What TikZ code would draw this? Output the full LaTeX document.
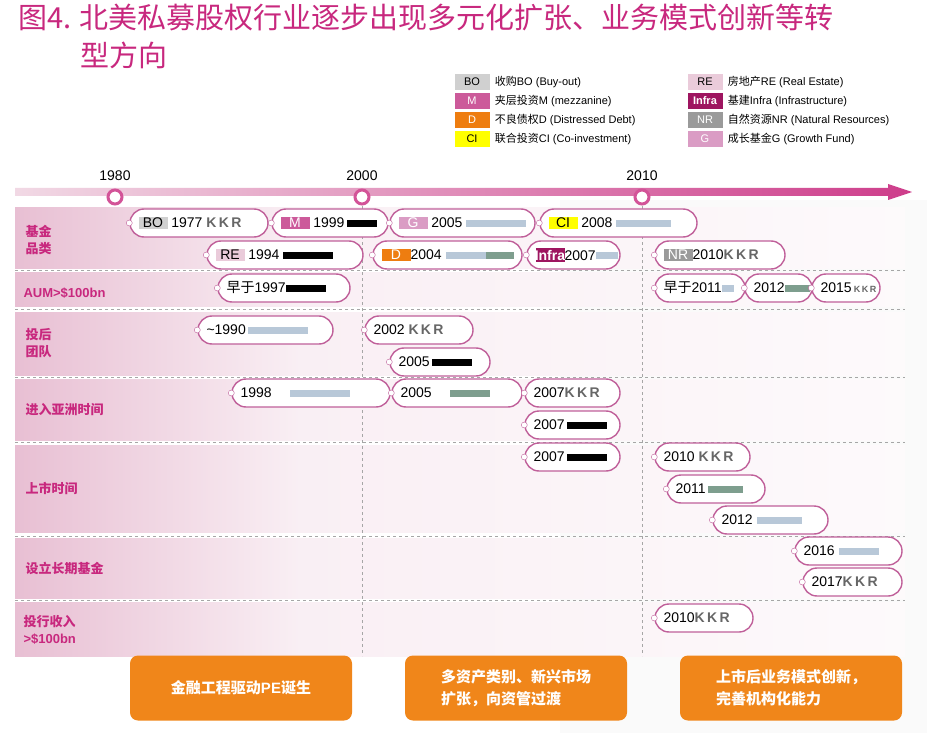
\documentclass[tikz,border=0pt]{standalone}
\usepackage{fontspec}
\setmainfont{Liberation Sans}
\newfontfamily\cjk{Noto Sans CJK SC}
\usepackage{tikz}
\usetikzlibrary{positioning,arrows.meta}
\definecolor{titlemag}{HTML}{C8287E}
\definecolor{pillline}{HTML}{C0609A}
\definecolor{bandpink}{HTML}{E8BFD3}
\definecolor{tagbo}{HTML}{D0D0D0}
\definecolor{tagm}{HTML}{CC5A9A}
\definecolor{tagg}{HTML}{DA9CC4}
\definecolor{tagre}{HTML}{EACBDA}
\definecolor{tagd}{HTML}{EE7D10}
\definecolor{taginfra}{HTML}{9E1560}
\definecolor{tagnr}{HTML}{9A9A9A}
\definecolor{tagci}{HTML}{FFFF00}
\definecolor{logoblue}{HTML}{B8C8D8}
\definecolor{logogreen}{HTML}{7E9E8E}
\definecolor{boxorange}{HTML}{F0861A}
\newcommand{\tagb}[3]{{\setlength{\fboxsep}{1.5pt}\colorbox{#1}{\makebox[26pt]{\textcolor{#2}{#3}}}}}
\newcommand{\blob}[2]{\textcolor{#1}{\rule[1pt]{#2pt}{7pt}}}
\newcommand{\kkr}{\textbf{\textcolor{gray!80!black}{K\,K\,R}}}
\newcommand{\pill}[5]{%
  \node[pillbox,minimum width={#3pt-#2pt}] (#1) at ({(#2+#3)/2},#4) {};
  \node[anchor=west,inner sep=0pt] at ([xshift=9pt]#1.west) {#5};
  \draw[pillline,fill=white] (#1.west) circle (3pt);}
\newcommand{\legend}[6]{%
  \node[fill=#2,minimum width=35pt,minimum height=16pt,inner sep=0pt,text=#3,font=\fontsize{11}{11}\selectfont] (#1) at #4 {#5};
  \node[right=5pt of #1,inner sep=0pt,font=\fontsize{11}{11}\selectfont] {#6};}
\tikzset{
  pillbox/.style={draw=pillline,line width=1.4pt,rounded corners=14pt,minimum height=28pt,inner sep=0pt,fill=white},
  rowlabel/.style={anchor=west,text=titlemag,font=\cjk\bfseries\fontsize{13}{17}\selectfont,align=left},
  sepline/.style={dashed,gray!70,line width=0.8pt},
  tickdot/.style={circle,draw=titlemag!80,line width=3pt,fill=white,minimum size=14pt,inner sep=0pt},
  endbox/.style={fill=boxorange,rounded corners=8pt,minimum width=222pt,minimum height=65pt,text=white,font=\cjk\bfseries\fontsize{15}{22}\selectfont,align=left}
}
\begin{document}
\begin{tikzpicture}[x=1pt,y=-1pt,font=\fontsize{14}{14}\selectfont]
\useasboundingbox (0,0) rectangle (927,733);
\fill[white] (0,0) rectangle (927,733);
\fill[gray!4] (560,200) rectangle (927,733);
% title
\node[anchor=north west,text=titlemag,font=\cjk\fontsize{29}{38}\selectfont,align=left,inner sep=0pt] (title) at (18,4)
  {图4. 北美私募股权行业逐步出现多元化扩张、业务模式创新等转\\\hspace*{62pt}型方向};
% legend
\legend{lbo}{tagbo}{black}{(472,82)}{BO}{\cjk 收购\rmfamily BO (Buy-out)}
\legend{lm}{tagm}{white}{(472,101)}{M}{\cjk 夹层投资\rmfamily M (mezzanine)}
\legend{ld}{tagd}{white}{(472,120)}{D}{\cjk 不良债权\rmfamily D (Distressed Debt)}
\legend{lci}{tagci}{black}{(472,139)}{CI}{\cjk 联合投资\rmfamily CI (Co-investment)}
\legend{lre}{tagre}{black}{(705,82)}{RE}{\cjk 房地产\rmfamily RE (Real Estate)}
\legend{linfra}{taginfra}{white}{(705,101)}{\textbf{Infra}}{\cjk 基建\rmfamily Infra (Infrastructure)}
\legend{lnr}{tagnr}{white}{(705,120)}{NR}{\cjk 自然资源\rmfamily NR (Natural Resources)}
\legend{lg}{tagg}{white}{(705,139)}{G}{\cjk 成长基金\rmfamily G (Growth Fund)}
% row bands
\foreach \ya/\yb in {208/268,272/306,312/375,379/440,445/532,538/598,602/656}{
  \fill[left color=bandpink,right color=bandpink!25] (15,\ya) rectangle (300,\yb);
  \fill[left color=bandpink!25,right color=bandpink!8] (300,\ya) rectangle (905,\yb);}
\foreach \ys in {270,309,377,442,536,600}
  \draw[sepline] (15,\ys) -- (905,\ys);
\draw[sepline] (362,200) -- (362,656);
\draw[sepline] (642,200) -- (642,656);
\node[rowlabel] (r1) at (22,240) {基金\\品类};
\node[rowlabel,font=\bfseries\fontsize{13}{13}\selectfont] (r2) at (20,293) {AUM>\$100bn};
\node[rowlabel] (r3) at (22,343) {投后\\团队};
\node[rowlabel] (r4) at (22,410) {进入亚洲时间};
\node[rowlabel] (r5) at (22,488) {上市时间};
\node[rowlabel] (r6) at (22,568) {设立长期基金};
\node[rowlabel,font=\bfseries\fontsize{13}{17}\selectfont] (r7) at (20,630) {{\cjk 投行收入}\\>\$100bn};
% timeline
\shade[left color=bandpink!60,right color=titlemag!90] (15,188) -- (888,188) -- (888,184) -- (912,192) -- (888,200) -- (888,196) -- (15,196) -- cycle;
\foreach \xt/\yr in {115/1980,362/2000,642/2010}{
  \node[tickdot] (t\yr) at (\xt,197) {};
  \node[above=4pt of t\yr,font=\fontsize{14}{14}\selectfont] {\yr};}
% fund types
\pill{bo}{130}{268}{223}{\tagb{tagbo}{black}{BO} 1977 \kkr}
\pill{m}{272}{388}{223}{\tagb{tagm}{white}{M} 1999\,\blob{black}{30}}
\pill{g}{390}{535}{223}{\tagb{tagg}{white}{G} 2005 \blob{logoblue}{60}}
\pill{ci}{540}{697}{223}{\tagb{tagci}{black}{CI} 2008 \blob{logoblue}{55}}
\pill{re}{207}{363}{255}{\tagb{tagre}{black}{RE} 1994 \blob{black}{50}}
\pill{d}{373}{522}{255}{\tagb{tagd}{white}{D}2004 \blob{logoblue}{40}\blob{logogreen}{28}}
\pill{infra}{527}{620}{255}{\tagb{taginfra}{white}{\textbf{Infra}}2007\blob{logoblue}{22}}
\pill{nr}{655}{785}{255}{\tagb{tagnr}{white}{NR}2010\kkr}
% AUM
\pill{aum1}{218}{350}{288}{{\cjk 早于}1997\blob{black}{40}}
\pill{aum2}{655}{745}{288}{{\cjk 早于}2011\blob{logoblue}{12}}
\pill{aum3}{745}{812}{288}{2012\blob{logogreen}{25}}
\pill{aum4}{812}{880}{288}{2015\,{\fontsize{9}{9}\selectfont\kkr}}
% post-deal teams
\pill{pt1}{198}{333}{330}{\textasciitilde 1990\,\blob{logoblue}{60}}
\pill{pt2}{365}{473}{330}{2002 \kkr}
\pill{pt3}{390}{490}{362}{2005\,\blob{black}{40}}
% Asia
\pill{as1}{232}{390}{393}{1998 \hspace{14pt}\blob{logoblue}{60}}
\pill{as2}{392}{522}{393}{2005 \hspace{14pt}\blob{logogreen}{40}}
\pill{as3}{525}{620}{393}{2007\kkr}
\pill{as4}{525}{620}{425}{2007\,\blob{black}{40}}
% listing
\pill{ls1}{525}{620}{457}{2007\,\blob{black}{40}}
\pill{ls2}{655}{750}{457}{2010 \kkr}
\pill{ls3}{667}{765}{489}{2011\,\blob{logogreen}{35}}
\pill{ls4}{713}{828}{520}{2012 \blob{logoblue}{45}}
% long-term funds
\pill{lt1}{795}{902}{551}{2016 \blob{logoblue}{40}}
\pill{lt2}{803}{902}{582}{2017\kkr}
% IB revenue
\pill{ib1}{655}{753}{618}{2010\kkr}
% phases
\node[endbox] (ph1) at (241,688) {金融工程驱动\rmfamily PE\cjk 诞生};
\node[endbox] (ph2) at (516,688) {多资产类别、新兴市场\\扩张，向资管过渡};
\node[endbox] (ph3) at (791,688) {上市后业务模式创新，\\完善机构化能力};
\end{tikzpicture}
\end{document}
